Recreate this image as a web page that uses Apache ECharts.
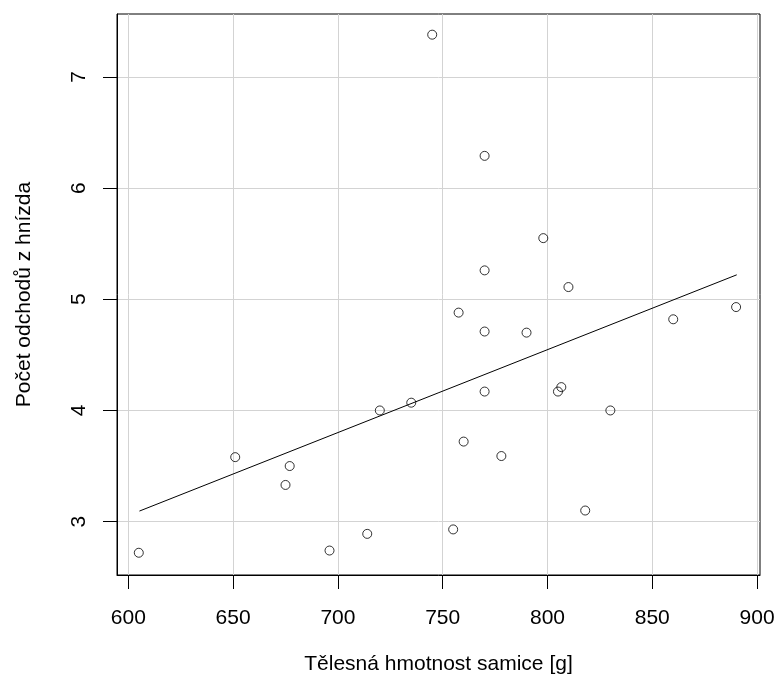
<!DOCTYPE html>
<html>
<head>
<meta charset="utf-8">
<script src="https://cdn.jsdelivr.net/npm/echarts@6/dist/echarts.min.js"></script>
<style>
    html, body { margin: 0; padding: 0; background: #fff; }
    #graf { width: 776px; height: 689px; }
</style>
</head>
<body>
<div id="graf"></div>
<script>
// ==============================================
// DATOS
// ==============================================

// hmotnost samice [g]
const hmotnost = [745, 770, 798, 770, 810, 757.6, 890, 860, 770, 790, 770, 805, 806.6,
                  830, 760, 778, 818, 755, 605, 651, 677, 675, 696, 714, 720, 735];
// počet odchodů z hnízda
const odchody = [7.38, 6.29, 5.55, 5.26, 5.11, 4.88, 4.93, 4.82, 4.71, 4.70, 4.17, 4.17, 4.21,
                 4.00, 3.72, 3.59, 3.10, 2.93, 2.72, 3.58, 3.50, 3.33, 2.74, 2.89, 4.00, 4.07];

// regresní přímka (krajní body)
const primkaX = [605.3, 890.3];
const primkaY = [3.095, 5.22];

const xTicks = [600, 650, 700, 750, 800, 850, 900];
const yTicks = [3, 4, 5, 6, 7];

const body = hmotnost.map((h, i) => [h, odchody[i]]);
const primka = primkaX.map((x, i) => [x, primkaY[i]]);

// ==============================================
// GRAF
// ==============================================

const pismo = 'Liberation Sans, Arial, sans-serif';
const chart = echarts.init(document.getElementById('graf'), null, { renderer: 'canvas' });

const option = {
    animation: false,
    backgroundColor: '#fff',
    grid: {
        left: 117,
        right: 16,
        top: 14,
        bottom: 114,
        containLabel: false,
        outerBoundsMode: 'none',
        show: true,
        borderColor: '#000',
        borderWidth: 1,
        backgroundColor: 'transparent'
    },
    xAxis: {
        type: 'value',
        min: 594.6,
        max: 901.4,
        name: 'Tělesná hmotnost samice [g]',
        nameLocation: 'middle',
        nameGap: 79,
        nameTextStyle: { fontFamily: pismo, fontSize: 21, color: '#000' },
        axisLine: { show: true, onZero: false, lineStyle: { color: '#000', width: 1 } },
        axisTick: { show: true, inside: false, length: 14, customValues: xTicks,
                    lineStyle: { color: '#000', width: 1 } },
        axisLabel: { show: true, customValues: xTicks, margin: 33, fontFamily: pismo,
                     fontSize: 21, color: '#000' },
        splitLine: { show: true, lineStyle: { color: '#d3d3d3', width: 1 } }
    },
    yAxis: {
        type: 'value',
        min: 2.52,
        max: 7.566,
        name: 'Počet odchodů z hnízda',
        nameLocation: 'middle',
        nameGap: 82,
        nameTextStyle: { fontFamily: pismo, fontSize: 21, color: '#000' },
        axisLine: { show: true, onZero: false, lineStyle: { color: '#000', width: 1 } },
        axisTick: { show: true, inside: false, length: 14, customValues: yTicks,
                    lineStyle: { color: '#000', width: 1 } },
        axisLabel: { show: true, customValues: yTicks, rotate: 90, margin: 27,
                     fontFamily: pismo, fontSize: 21, color: '#000' },
        splitLine: { show: true, lineStyle: { color: '#d3d3d3', width: 1 } }
    },
    series: [
        {
            name: 'body',
            type: 'scatter',
            data: body,
            symbol: 'circle',
            symbolSize: 9,
            itemStyle: { color: 'rgba(0,0,0,0)', borderColor: '#000', borderWidth: 1 },
            z: 3
        },
        {
            name: 'primka',
            type: 'line',
            data: primka,
            symbol: 'none',
            lineStyle: { color: '#000', width: 1 },
            z: 4
        }
    ]
};

chart.setOption(option);
</script>
</body>
</html>
